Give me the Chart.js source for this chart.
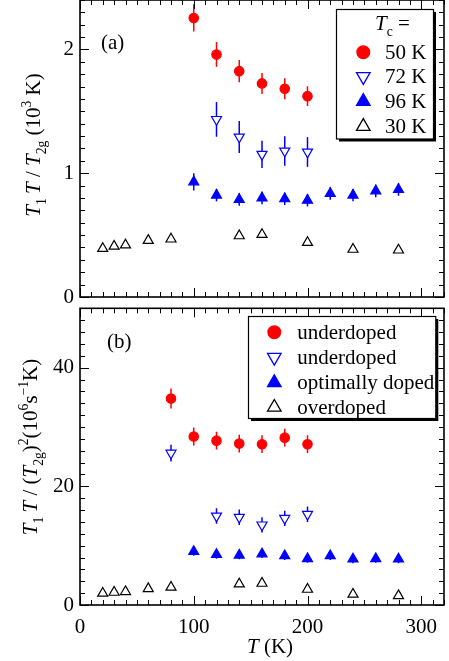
<!DOCTYPE html>
<html><head><meta charset="utf-8">
<script src="https://cdn.jsdelivr.net/npm/chart.js@4/dist/chart.umd.min.js"></script>
<style>
html,body{margin:0;padding:0;background:#fff;}
#wrap{position:relative;width:449px;height:661px;overflow:hidden;}
.box{position:absolute;left:0;width:449px;}
</style></head><body>
<div id="wrap">
<div class="box" style="top:0;height:312px"><canvas id="ca" width="449" height="312"></canvas></div>
<div class="box" style="top:300px;height:361px"><canvas id="cb" width="449" height="361"></canvas></div>
</div>
<script>
// ---------- DATA ----------
// Panel (a): T1T / T2g (10^3 K)
const T_50K = [100,120,140,160,180,200];
const a_50K = [2.255,1.96,1.825,1.726,1.683,1.623];
const a_50K_err = [0.11,0.10,0.09,0.085,0.085,0.08];

const T_72K = [120,140,160,180,200];
const a_72K = [1.435,1.293,1.153,1.18,1.172];
const a_72K_err = [0.14,0.13,0.11,0.12,0.12];

const T_96K = [100,120,140,160,180,200,220,240,260,280];
const a_96K = [0.93,0.823,0.788,0.80,0.793,0.782,0.836,0.823,0.857,0.868];
const a_96K_err = [0.07,0.05,0.05,0.05,0.05,0.05,0.05,0.05,0.05,0.05];

const T_30K = [20,30,40,60,80,140,160,200,240,280];
const a_30K = [0.392,0.41,0.42,0.457,0.468,0.494,0.505,0.44,0.385,0.379];

// Panel (b): T1T / (T2g)^2 (10^6 s^-1 K)
const T_under1 = [80,100,120,140,160,180,200];
const b_under1 = [34.8,28.4,27.7,27.2,27.1,28.2,27.1];
const b_under1_err = [1.7,1.5,1.5,1.5,1.5,1.5,1.5];

const T_under2 = [80,120,140,160,180,200];
const b_under2 = [25.6,15.0,14.8,13.5,14.6,15.3];
const b_under2_err = [1.4,1.3,1.3,1.3,1.3,1.3];

const T_opt = [100,120,140,160,180,200,220,240,260,280];
const b_opt = [9.0,8.5,8.4,8.6,8.3,7.8,8.3,7.75,7.8,7.75];
const b_opt_err = [0.7,0.7,0.7,0.7,0.7,0.7,0.7,0.7,0.7,0.7];

const T_over = [20,30,40,60,80,140,160,200,240,280];
const b_over = [1.97,2.13,2.25,2.75,2.98,3.54,3.65,2.64,1.8,1.57];

const legendA = ['50 K','72 K','96 K','30 K'];
const legendB = ['underdoped','underdoped','optimally doped','overdoped'];
const xTicks = [0,100,200,300];
const yTicksA = [0,1,2];
const yTicksB = [0,20,40];

// ---------- STYLE / HELPERS ----------
const FONT = '"Liberation Serif"';
const RED = '#ff0000', BLUE = '#0000ff', BLACK = '#000000';
const styles = [
  {pointStyle:'circle', rotation:0, bg:RED, bc:RED, r:4.7},
  {pointStyle:'triangle', rotation:180, bg:'#ffffff', bc:BLUE, r:5.8},
  {pointStyle:'triangle', rotation:0, bg:BLUE, bc:BLUE, r:5.8},
  {pointStyle:'triangle', rotation:0, bg:'#ffffff', bc:BLACK, r:5.8}
];
function pts(xs, ys){ return xs.map((x,i)=>({x:x, y:ys[i]})); }
function ds(label, xs, ys, errs, k){
  const s = styles[k];
  return {label, data:pts(xs,ys), errs:errs, pointStyle:s.pointStyle, rotation:s.rotation,
    pointRadius:s.r, pointBorderWidth:1.2, backgroundColor:s.bg, borderColor:s.bc,
    pointBackgroundColor:s.bg, pointBorderColor:s.bc, showLine:false};
}
function drawRich(ctx, segs, x, y, size){
  let cx = x;
  for (const s of segs){
    const small = s.sub || s.sup;
    const fs = small ? size*0.65 : size;
    ctx.font = (s.it ? 'italic ' : '') + fs + 'px ' + FONT;
    const dy = s.sub ? size*0.28 : (s.sup ? -size*0.42 : 0);
    ctx.fillText(s.t, cx, y+dy);
    cx += ctx.measureText(s.t).width;
  }
  return cx - x;
}
function richWidth(ctx, segs, size){
  let w = 0;
  for (const s of segs){
    const fs = (s.sub||s.sup) ? size*0.65 : size;
    ctx.font = (s.it ? 'italic ' : '') + fs + 'px ' + FONT;
    w += ctx.measureText(s.t).width;
  }
  return w;
}
function drawMarker(ctx, k, x, y, scale){
  const s = styles[k];
  const r = s.r*scale;
  ctx.save();
  ctx.fillStyle = s.bg; ctx.strokeStyle = s.bc; ctx.lineWidth = 1.3;
  ctx.beginPath();
  if (s.pointStyle === 'circle'){
    ctx.arc(x, y, r, 0, Math.PI*2);
  } else {
    let rad = s.rotation*Math.PI/180;
    for (let i=0;i<3;i++){
      const px = x + Math.sin(rad)*r, py = y - Math.cos(rad)*r;
      if (i===0) ctx.moveTo(px,py); else ctx.lineTo(px,py);
      rad += 2*Math.PI/3;
    }
    ctx.closePath();
  }
  ctx.fill(); ctx.stroke();
  ctx.restore();
}

const errorBars = {
  id:'errbars',
  beforeDatasetsDraw(chart){
    const {ctx, chartArea:a} = chart; const x = chart.scales.x, y = chart.scales.y;
    ctx.save(); ctx.beginPath(); ctx.rect(a.left,a.top,a.right-a.left,a.bottom-a.top); ctx.clip();
    chart.data.datasets.forEach(d=>{
      if (!d.errs) return;
      ctx.strokeStyle = d.borderColor; ctx.lineWidth = 1.5;
      d.data.forEach((p,i)=>{
        const e = d.errs[i]; if (!e) return;
        const px = x.getPixelForValue(p.x);
        ctx.beginPath();
        ctx.moveTo(px, y.getPixelForValue(p.y-e));
        ctx.lineTo(px, y.getPixelForValue(p.y+e));
        ctx.stroke();
      });
    });
    ctx.restore();
  }
};

function framePlugin(yMinor, yMajor, yLabels, xLabels){
  return {
    id:'frame',
    afterDatasetsDraw(chart){
      const {ctx, chartArea:a} = chart; const x = chart.scales.x, y = chart.scales.y;
      ctx.save();
      ctx.strokeStyle = '#000'; ctx.lineWidth = 1;
      const eps = 1e-6;
      for (let v = 0; v <= x.max+eps; v += 10){
        const major = Math.abs(v/100 - Math.round(v/100)) < eps;
        const L = major ? 9 : 5;
        const px = Math.round(x.getPixelForValue(v))+0.5;
        ctx.beginPath();
        ctx.moveTo(px, a.bottom); ctx.lineTo(px, a.bottom-L);
        ctx.moveTo(px, a.top); ctx.lineTo(px, a.top+L);
        ctx.stroke();
      }
      const n = Math.round(y.max/yMinor);
      for (let i = 0; i <= n; i++){
        const v = i*yMinor;
        const major = Math.abs(v/yMajor - Math.round(v/yMajor)) < 1e-6;
        const L = major ? 9 : 5;
        const py = Math.round(y.getPixelForValue(v))+0.5;
        ctx.beginPath();
        ctx.moveTo(a.left, py); ctx.lineTo(a.left+L, py);
        ctx.moveTo(a.right, py); ctx.lineTo(a.right-L, py);
        ctx.stroke();
      }
      ctx.lineWidth = 1.6;
      ctx.strokeRect(a.left, a.top, a.right-a.left, a.bottom-a.top);
      ctx.fillStyle = '#000';
      ctx.font = '21px ' + FONT;
      ctx.textAlign = 'right'; ctx.textBaseline = 'middle';
      yLabels.forEach(v=>{ ctx.fillText(String(v), a.left-6, y.getPixelForValue(v)); });
      if (xLabels){
        ctx.textAlign = 'center'; ctx.textBaseline = 'alphabetic';
        xLabels.forEach(v=>{ ctx.fillText(String(v), x.getPixelForValue(v), a.bottom+28); });
      }
      ctx.restore();
    }
  };
}

function legendBox(ctx, x0, y0, x1, y1){
  ctx.save();
  ctx.fillStyle = '#000';
  ctx.fillRect(x0+2.5, y0+2.5, x1-x0, y1-y0);
  ctx.fillStyle = '#fff';
  ctx.fillRect(x0, y0, x1-x0, y1-y0);
  ctx.strokeStyle = '#000'; ctx.lineWidth = 1.2;
  ctx.strokeRect(x0, y0, x1-x0, y1-y0);
  ctx.restore();
}

function baseOptions(yMax, padTop, xHeight){
  return {
    responsive:false, animation:false, events:[],
    layout:{autoPadding:false, padding:{left:0, right:5, top:padTop, bottom:0}},
    plugins:{legend:{display:false}, tooltip:{enabled:false}},
    scales:{
      x:{type:'linear', min:0, max:320,
        ticks:{display:false}, grid:{display:false, drawTicks:false}, border:{display:false},
        afterFit:(s)=>{ s.height = xHeight; }},
      y:{type:'linear', min:0, max:yMax,
        ticks:{display:false}, grid:{display:false, drawTicks:false}, border:{display:false},
        afterFit:(s)=>{ s.width = 80; }}
    }
  };
}

// ---------- CHART A ----------
const decoA = {
  id:'decoA',
  afterDraw(chart){
    const ctx = chart.ctx;
    ctx.save(); ctx.fillStyle = '#000'; ctx.textBaseline = 'alphabetic';
    ctx.font = '21px ' + FONT; ctx.fillText('(a)', 101, 49);
    const segs = [{t:'T',it:1},{t:'1',sub:1},{t:'\u2009'},{t:'T',it:1},{t:' / '},{t:'T',it:1},{t:'2g',sub:1},{t:' (10'},{t:'3',sup:1},{t:' K)'}];
    const w = richWidth(ctx, segs, 21);
    ctx.translate(40, 145); ctx.rotate(-Math.PI/2);
    drawRich(ctx, segs, -w/2, 0, 21);
    ctx.restore();
    legendBox(ctx, 336.5, 9.5, 433.5, 139);
    ctx.save(); ctx.fillStyle = '#000';
    drawRich(ctx, [{t:'T',it:1},{t:'c',sub:1},{t:' ='}], 375, 30, 21);
    const ys = [52.3, 76.5, 101.5, 126.5];
    legendA.forEach((lab,i)=>{
      drawMarker(ctx, i, 363.3, ys[i], 1.35);
      ctx.font = '21px ' + FONT; ctx.fillText(lab, 385, ys[i]+6.5);
    });
    ctx.restore();
  }
};
new Chart(document.getElementById('ca'), {
  type:'scatter',
  data:{datasets:[
    ds(legendA[0], T_50K, a_50K, a_50K_err, 0),
    ds(legendA[1], T_72K, a_72K, a_72K_err, 1),
    ds(legendA[2], T_96K, a_96K, a_96K_err, 2),
    ds(legendA[3], T_30K, a_30K, null, 3)
  ]},
  options: baseOptions(2.4, 0, 15),
  plugins:[errorBars, framePlugin(0.1, 1, yTicksA, null), decoA]
});

// ---------- CHART B ----------
const decoB = {
  id:'decoB',
  afterDraw(chart){
    const ctx = chart.ctx;
    ctx.save(); ctx.fillStyle = '#000'; ctx.textBaseline = 'alphabetic';
    ctx.font = '21px ' + FONT; ctx.fillText('(b)', 107, 48);
    const xs = [{t:'T',it:1},{t:' (K)'}];
    const xw = richWidth(ctx, xs, 21);
    drawRich(ctx, xs, 270 - xw/2, 353, 21);
    const segs = [{t:'T',it:1},{t:'1',sub:1},{t:'\u2009'},{t:'T',it:1},{t:' / ('},{t:'T',it:1},{t:'2g',sub:1},{t:')'},{t:'2',sup:1},{t:'(10'},{t:'6',sup:1},{t:'s'},{t:'\u2212'+'1',sup:1},{t:'K)'}];
    const w = richWidth(ctx, segs, 21);
    ctx.translate(37, 147); ctx.rotate(-Math.PI/2);
    drawRich(ctx, segs, -w/2, 0, 21);
    ctx.restore();
    legendBox(ctx, 248.5, 16.5, 435.8, 118.5);
    ctx.save(); ctx.fillStyle = '#000';
    const ys = [32.3, 57.3, 82.7, 107.3];
    legendB.forEach((lab,i)=>{
      drawMarker(ctx, i, 274.3, ys[i], 1.35);
      ctx.font = '21px ' + FONT; ctx.fillText(lab, 297.3, ys[i]+6.5);
    });
    ctx.restore();
  }
};
new Chart(document.getElementById('cb'), {
  type:'scatter',
  data:{datasets:[
    ds(legendB[0], T_under1, b_under1, b_under1_err, 0),
    ds(legendB[1], T_under2, b_under2, b_under2_err, 1),
    ds(legendB[2], T_opt, b_opt, b_opt_err, 2),
    ds(legendB[3], T_over, b_over, null, 3)
  ]},
  options: baseOptions(50, 8.3, 56),
  plugins:[errorBars, framePlugin(2, 20, yTicksB, xTicks), decoB]
});
</script>
</body></html>
